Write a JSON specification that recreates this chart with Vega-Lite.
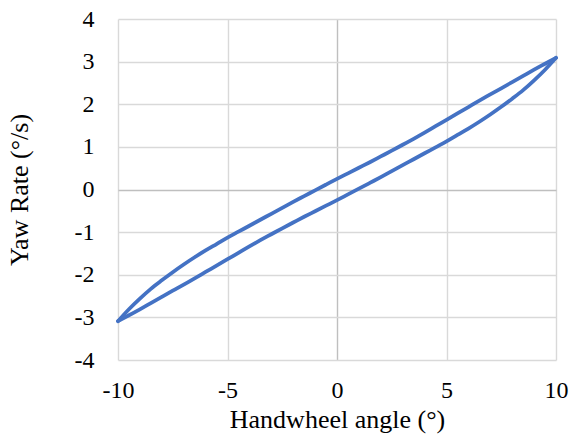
{
  "$schema": "https://vega.github.io/schema/vega-lite/v6.json",
  "width": 438,
  "height": 341,
  "autosize": "none",
  "padding": {"left": 118, "top": 19, "right": 16, "bottom": 76},
  "background": "white",
  "config": {
    "view": {"stroke": null},
    "font": "Liberation Serif"
  },
  "data": {
    "values": [
      {"branch": "up", "angle": -10, "yaw": -3.09},
      {"branch": "up", "angle": -9.5, "yaw": -2.81},
      {"branch": "up", "angle": -9, "yaw": -2.56},
      {"branch": "up", "angle": -8.5, "yaw": -2.33},
      {"branch": "up", "angle": -8, "yaw": -2.13},
      {"branch": "up", "angle": -7.5, "yaw": -1.94},
      {"branch": "up", "angle": -7, "yaw": -1.76},
      {"branch": "up", "angle": -6.5, "yaw": -1.59},
      {"branch": "up", "angle": -6, "yaw": -1.43},
      {"branch": "up", "angle": -5.5, "yaw": -1.28},
      {"branch": "up", "angle": -5, "yaw": -1.13},
      {"branch": "up", "angle": -4.5, "yaw": -0.99},
      {"branch": "up", "angle": -4, "yaw": -0.85},
      {"branch": "up", "angle": -3.5, "yaw": -0.71},
      {"branch": "up", "angle": -3, "yaw": -0.57},
      {"branch": "up", "angle": -2.5, "yaw": -0.43},
      {"branch": "up", "angle": -2, "yaw": -0.29},
      {"branch": "up", "angle": -1.5, "yaw": -0.155},
      {"branch": "up", "angle": -1, "yaw": -0.02},
      {"branch": "up", "angle": -0.5, "yaw": 0.115},
      {"branch": "up", "angle": 0, "yaw": 0.25},
      {"branch": "up", "angle": 0.5, "yaw": 0.38},
      {"branch": "up", "angle": 1, "yaw": 0.51},
      {"branch": "up", "angle": 1.5, "yaw": 0.64},
      {"branch": "up", "angle": 2, "yaw": 0.775},
      {"branch": "up", "angle": 2.5, "yaw": 0.91},
      {"branch": "up", "angle": 3, "yaw": 1.05},
      {"branch": "up", "angle": 3.5, "yaw": 1.19},
      {"branch": "up", "angle": 4, "yaw": 1.335},
      {"branch": "up", "angle": 4.5, "yaw": 1.485},
      {"branch": "up", "angle": 5, "yaw": 1.635},
      {"branch": "up", "angle": 5.5, "yaw": 1.785},
      {"branch": "up", "angle": 6, "yaw": 1.935},
      {"branch": "up", "angle": 6.5, "yaw": 2.085},
      {"branch": "up", "angle": 7, "yaw": 2.23},
      {"branch": "up", "angle": 7.5, "yaw": 2.375},
      {"branch": "up", "angle": 8, "yaw": 2.52},
      {"branch": "up", "angle": 8.5, "yaw": 2.665},
      {"branch": "up", "angle": 9, "yaw": 2.81},
      {"branch": "up", "angle": 9.5, "yaw": 2.95},
      {"branch": "up", "angle": 10, "yaw": 3.09},
      {"branch": "down", "angle": 10, "yaw": 3.09},
      {"branch": "down", "angle": 9.5, "yaw": 2.81},
      {"branch": "down", "angle": 9, "yaw": 2.56},
      {"branch": "down", "angle": 8.5, "yaw": 2.33},
      {"branch": "down", "angle": 8, "yaw": 2.13},
      {"branch": "down", "angle": 7.5, "yaw": 1.94},
      {"branch": "down", "angle": 7, "yaw": 1.76},
      {"branch": "down", "angle": 6.5, "yaw": 1.59},
      {"branch": "down", "angle": 6, "yaw": 1.43},
      {"branch": "down", "angle": 5.5, "yaw": 1.28},
      {"branch": "down", "angle": 5, "yaw": 1.13},
      {"branch": "down", "angle": 4.5, "yaw": 0.99},
      {"branch": "down", "angle": 4, "yaw": 0.85},
      {"branch": "down", "angle": 3.5, "yaw": 0.71},
      {"branch": "down", "angle": 3, "yaw": 0.57},
      {"branch": "down", "angle": 2.5, "yaw": 0.43},
      {"branch": "down", "angle": 2, "yaw": 0.29},
      {"branch": "down", "angle": 1.5, "yaw": 0.155},
      {"branch": "down", "angle": 1, "yaw": 0.02},
      {"branch": "down", "angle": 0.5, "yaw": -0.115},
      {"branch": "down", "angle": 0, "yaw": -0.25},
      {"branch": "down", "angle": -0.5, "yaw": -0.38},
      {"branch": "down", "angle": -1, "yaw": -0.51},
      {"branch": "down", "angle": -1.5, "yaw": -0.64},
      {"branch": "down", "angle": -2, "yaw": -0.775},
      {"branch": "down", "angle": -2.5, "yaw": -0.91},
      {"branch": "down", "angle": -3, "yaw": -1.05},
      {"branch": "down", "angle": -3.5, "yaw": -1.19},
      {"branch": "down", "angle": -4, "yaw": -1.335},
      {"branch": "down", "angle": -4.5, "yaw": -1.485},
      {"branch": "down", "angle": -5, "yaw": -1.635},
      {"branch": "down", "angle": -5.5, "yaw": -1.785},
      {"branch": "down", "angle": -6, "yaw": -1.935},
      {"branch": "down", "angle": -6.5, "yaw": -2.085},
      {"branch": "down", "angle": -7, "yaw": -2.23},
      {"branch": "down", "angle": -7.5, "yaw": -2.375},
      {"branch": "down", "angle": -8, "yaw": -2.52},
      {"branch": "down", "angle": -8.5, "yaw": -2.665},
      {"branch": "down", "angle": -9, "yaw": -2.81},
      {"branch": "down", "angle": -9.5, "yaw": -2.95},
      {"branch": "down", "angle": -10, "yaw": -3.09}
    ]
  },
  "mark": {"type": "line", "color": "#4472C4", "strokeWidth": 3.75, "interpolate": "monotone", "strokeCap": "round", "strokeJoin": "round"},
  "encoding": {
    "x": {
      "field": "angle",
      "type": "quantitative",
      "scale": {"domain": [-10, 10], "nice": false, "zero": false},
      "axis": {
        "values": [-10, -5, 0, 5, 10],
        "title": "Handwheel angle (°)",
        "labelExpr": "datum.value + ''",
        "labelFlush": false,
        "labelOverlap": false,
        "domain": false,
        "ticks": false,
        "grid": true,
        "gridColor": {"condition": {"test": "datum.value === 0", "value": "#bfbfbf"}, "value": "#d9d9d9"},
        "gridWidth": 1.4,
        "labelFont": "Liberation Serif",
        "labelFontSize": 24,
        "labelColor": "#000000",
        "labelPadding": 18,
        "titleFont": "Liberation Serif",
        "titleFontSize": 26,
        "titleFontWeight": "normal",
        "titleColor": "#000000",
        "titlePadding": 4
      }
    },
    "y": {
      "field": "yaw",
      "type": "quantitative",
      "scale": {"domain": [-4, 4], "nice": false, "zero": false},
      "axis": {
        "values": [-4, -3, -2, -1, 0, 1, 2, 3, 4],
        "title": "Yaw Rate (°/s)",
        "labelExpr": "datum.value + ''",
        "labelFlush": false,
        "labelOverlap": false,
        "domain": false,
        "ticks": false,
        "grid": true,
        "gridColor": {"condition": {"test": "datum.value === 0", "value": "#bfbfbf"}, "value": "#d9d9d9"},
        "gridWidth": 1.4,
        "labelFont": "Liberation Serif",
        "labelFontSize": 24,
        "labelColor": "#000000",
        "labelPadding": 24,
        "titleFont": "Liberation Serif",
        "titleFontSize": 26,
        "titleFontWeight": "normal",
        "titleColor": "#000000",
        "titlePadding": 42
      }
    },
    "detail": {"field": "branch", "type": "nominal"}
  }
}
